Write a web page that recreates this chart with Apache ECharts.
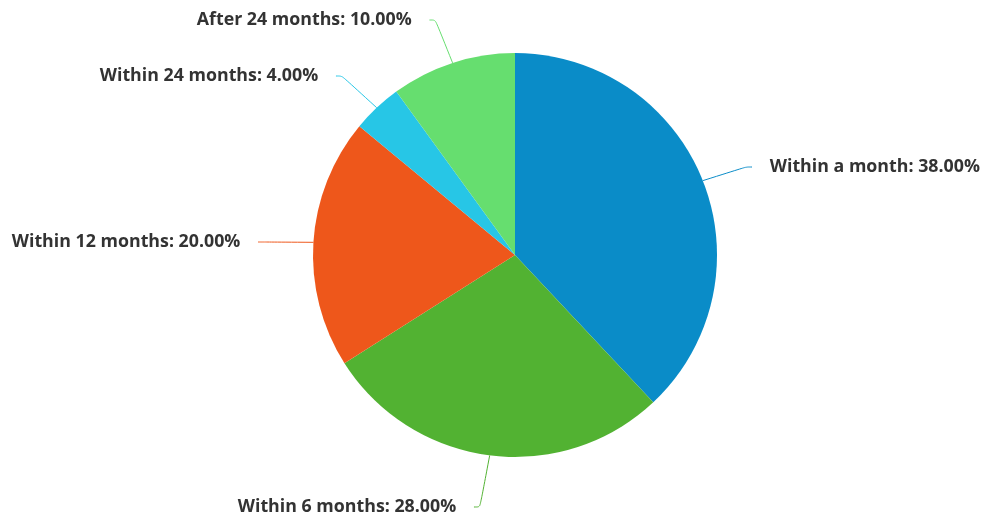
<!DOCTYPE html>
<html>
<head>
<meta charset="utf-8">
<script src="https://cdn.jsdelivr.net/npm/echarts@6/dist/echarts.min.js"></script>
<style>
  html, body { margin: 0; padding: 0; background: #fff; }
  #chart { width: 984px; height: 517px; }
</style>
</head>
<body>
<div id="chart"></div>
<script>
var categories = ['Within a month', 'Within 6 months', 'Within 12 months', 'Within 24 months', 'After 24 months'];
var values = [38, 28, 20, 4, 10];
var colors = ['#0a8cc8', '#52b232', '#ee571b', '#27c6e6', '#66de6f'];

var data = [];
for (var i = 0; i < categories.length; i++) {
    data.push({
        name: categories[i],
        value: values[i],
        itemStyle: {color: colors[i]},
        labelLine: {lineStyle: {color: colors[i]}}
    });
}

// where each label sits (left edge, middle); em spaces keep the line off the text
var labelSpots = [[752, 167], [220, 507], [-6, 242], [82, 76], [179, 20]];

var myChart = echarts.init(document.getElementById('chart'));
var option = {
    animation: false,
    series: [
        {
            type: 'pie',
            center: [515, 255],
            radius: 202,
            startAngle: 90,
            clockwise: true,
            data: data,
            label: {
                formatter: function (p) {
                    return '\u2003' + p.name + ': ' + p.value.toFixed(2) + '%\u2003';
                },
                fontFamily: 'Open Sans',
                fontWeight: 'bold',
                fontSize: 17.8,
                color: '#333',
                overflow: 'none'
            },
            labelLine: {
                show: true,
                length: 30,
                length2: 6,
                smooth: true,
                lineStyle: {width: 1}
            },
            labelLayout: function (params) {
                var s = labelSpots[params.dataIndex];
                return {x: s[0], y: s[1], align: 'left', verticalAlign: 'middle'};
            }
        }
    ]
};
myChart.setOption(option, true);
</script>
</body>
</html>
